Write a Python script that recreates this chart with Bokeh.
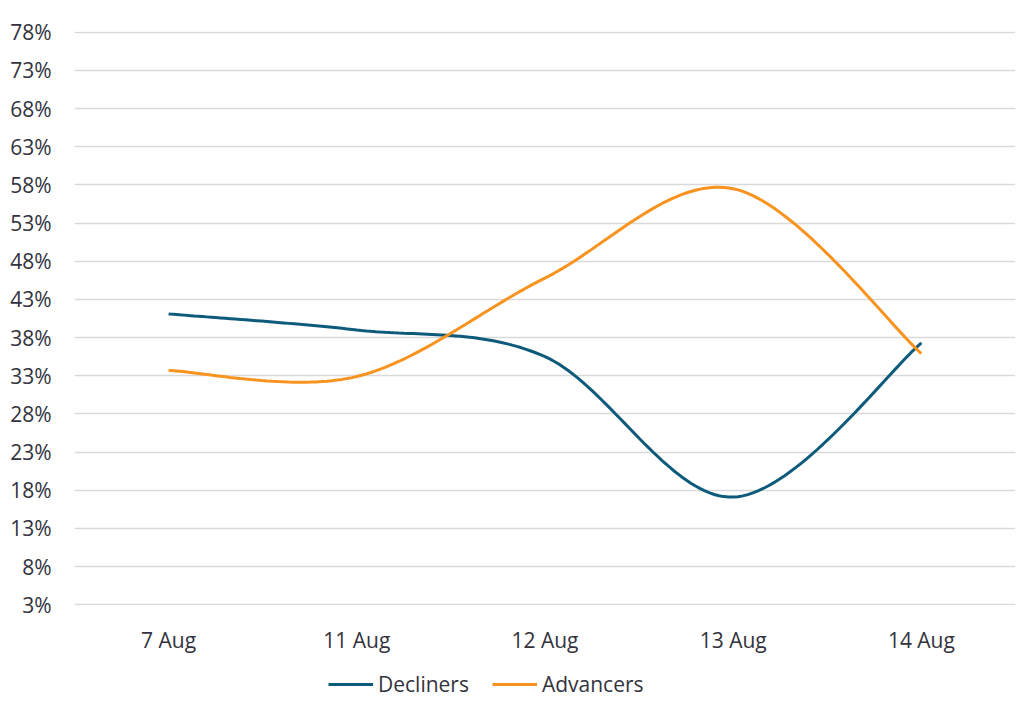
from bokeh.plotting import figure
from bokeh.layouts import column
from bokeh.models import Range1d, FixedTicker, Legend, LegendItem
from bokeh.embed import file_html
from bokeh.resources import INLINE

# ---- data ----
dates = ["7 Aug", "11 Aug", "12 Aug", "13 Aug", "14 Aug"]
decliners = [41.1, 39.0, 35.5, 17.1, 37.3]
advancers = [33.7, 32.9, 45.8, 57.5, 35.9]
series_names = ["Decliners", "Advancers"]
y_ticks = [3, 8, 13, 18, 23, 28, 33, 38, 43, 48, 53, 58, 63, 68, 73, 78]
y_tick_labels = ["3%", "8%", "13%", "18%", "23%", "28%", "33%", "38%", "43%",
                 "48%", "53%", "58%", "63%", "68%", "73%", "78%"]

FONT = "Open Sans"
TEXT = "#33333d"
BLUE = "#0d5a7a"
ORANGE = "#f7931e"
W = 1016


def smooth(xs, ys, n=40):
    """Catmull-Rom style smoothing (as cubic Bezier segments) through the data points."""
    px = [xs[0]] + list(xs) + [xs[-1]]
    py = [ys[0]] + list(ys) + [ys[-1]]
    ox, oy = [], []
    for i in range(1, len(px) - 2):
        x0, y0 = px[i], py[i]
        x3, y3 = px[i + 1], py[i + 1]
        x1 = x0 + (px[i + 1] - px[i - 1]) / 6.0
        y1 = y0 + (py[i + 1] - py[i - 1]) / 6.0
        x2 = x3 - (px[i + 2] - px[i]) / 6.0
        y2 = y3 - (py[i + 2] - py[i]) / 6.0
        for k in range(n + 1):
            if i > 1 and k == 0:
                continue
            t = k / n
            a = (1 - t) ** 3
            b = 3 * (1 - t) ** 2 * t
            c = 3 * (1 - t) * t ** 2
            d = t ** 3
            ox.append(a * x0 + b * x1 + c * x2 + d * x3)
            oy.append(a * y0 + b * y1 + c * y2 + d * y3)
    return ox, oy


xpos = [i + 0.5 for i in range(len(dates))]

p = figure(width=W, height=656,
           min_border_left=74, min_border_right=1, min_border_top=31, min_border_bottom=50,
           x_range=Range1d(0, len(dates)), y_range=Range1d(y_ticks[0] - 0.1, y_ticks[-1] + 0.1),
           output_backend="svg", toolbar_location=None)
p.outline_line_color = None

p.yaxis.ticker = FixedTicker(ticks=y_ticks)
p.yaxis.major_label_overrides = {t: l for t, l in zip(y_ticks, y_tick_labels)}
p.xaxis.ticker = FixedTicker(ticks=xpos)
p.xaxis.major_label_overrides = {x: d for x, d in zip(xpos, dates)}
for ax in (p.xaxis, p.yaxis):
    ax.axis_line_color = None
    ax.major_tick_line_color = None
    ax.minor_tick_line_color = None
    ax.major_tick_out = 0
    ax.major_tick_in = 0
    ax.major_label_text_font = FONT
    ax.major_label_text_font_size = "21px"
    ax.major_label_text_color = TEXT
p.yaxis.major_label_standoff = 23
p.xaxis.major_label_standoff = 20

p.xgrid.grid_line_color = None
p.ygrid.ticker = FixedTicker(ticks=y_ticks)
p.ygrid.grid_line_color = "#d9d9d9"
p.ygrid.grid_line_width = 1.6

sx, sy = smooth(xpos, decliners)
p.line(sx, sy, line_color=BLUE, line_width=3)
ax_, ay_ = smooth(xpos, advancers)
p.line(ax_, ay_, line_color=ORANGE, line_width=3)

# legend strip below the chart (its frame is aligned with the chart's frame)
nan = float("nan")
lg = figure(width=W, height=51, min_border=0, x_range=Range1d(0, 1), y_range=Range1d(0, 1),
            output_backend="svg", toolbar_location=None)
lg.axis.visible = False
lg.grid.visible = False
lg.outline_line_color = None
d1 = lg.line([nan], [nan], line_color=BLUE, line_width=3)
d2 = lg.line([nan], [nan], line_color=ORANGE, line_width=3)
legend = Legend(items=[LegendItem(label=series_names[0], renderers=[d1]),
                       LegendItem(label=series_names[1], renderers=[d2])],
                orientation="horizontal", location=(254, 9))
legend.label_text_font = FONT
legend.label_text_font_size = "21px"
legend.label_text_color = TEXT
legend.glyph_width = 45
legend.glyph_height = 22
legend.label_standoff = 5
legend.spacing = 23
legend.padding = 0
legend.margin = 0
legend.border_line_color = None
legend.background_fill_alpha = 0
lg.add_layout(legend, "center")

layout = column(p, lg, spacing=0)
open("out.html", "w").write(file_html(layout, INLINE))
